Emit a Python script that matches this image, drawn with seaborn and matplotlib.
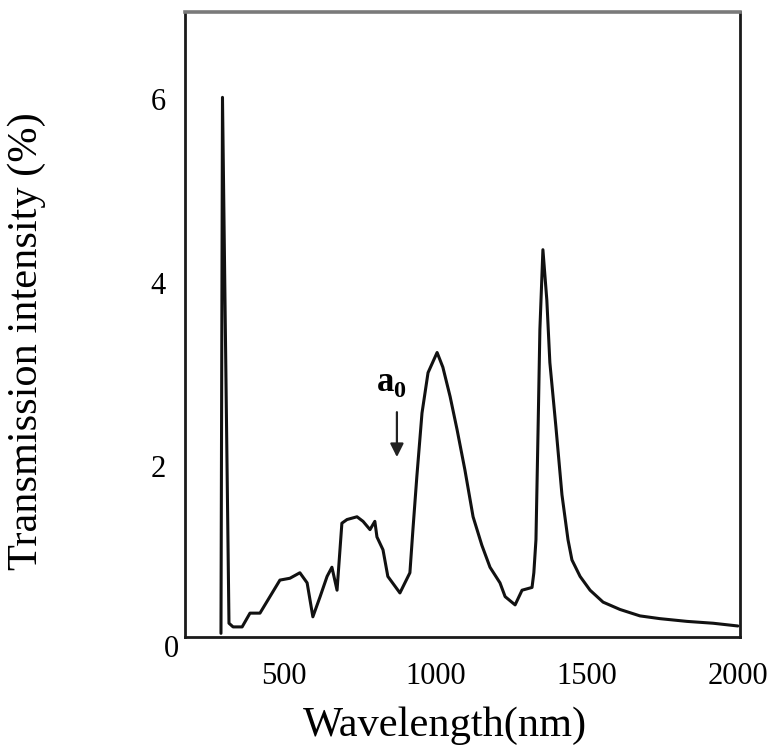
import numpy as np
import pandas as pd
import matplotlib
matplotlib.use("Agg")
import matplotlib.pyplot as plt
import seaborn as sns

# ---- data ----
wavelength_nm = [291, 296, 317.5, 331, 361, 387, 420, 453, 486, 519, 552, 576,
                 595, 619, 642, 658, 675, 691, 708, 741, 761, 784, 800, 807,
                 827, 843, 883, 916, 926, 939, 956, 976, 1006, 1025, 1049,
                 1072, 1098, 1125, 1154, 1181, 1214, 1231, 1264, 1287, 1320,
                 1326, 1333, 1340, 1346, 1356, 1369, 1379, 1399, 1419, 1439,
                 1452, 1479, 1512, 1555, 1611, 1677, 1743, 1833, 1919, 2001]
transmission = [0.18, 6.02, 0.29, 0.25, 0.25, 0.40, 0.40, 0.58, 0.76, 0.78,
                0.84, 0.73, 0.36, 0.58, 0.80, 0.90, 0.65, 1.38, 1.42, 1.45,
                1.40, 1.31, 1.40, 1.23, 1.09, 0.80, 0.62, 0.84, 1.31, 1.89,
                2.58, 3.02, 3.24, 3.08, 2.76, 2.40, 1.96, 1.45, 1.14, 0.90,
                0.73, 0.58, 0.49, 0.65, 0.68, 0.84, 1.20, 2.40, 3.49, 4.36,
                3.81, 3.13, 2.43, 1.69, 1.20, 0.98, 0.80, 0.65, 0.52, 0.44,
                0.37, 0.34, 0.31, 0.29, 0.26]
x_ticks = [500, 1000, 1500, 2000]
y_ticks = [2, 4, 6]
annotation_label = "a"
annotation_sub = "0"

df = pd.DataFrame({"Wavelength(nm)": wavelength_nm,
                   "Transmission intensity (%)": transmission})

sns.set_theme(style="white")
plt.rcParams["font.family"] = ["Liberation Serif", "DejaVu Serif"]
plt.rcParams["mathtext.fontset"] = "custom"
plt.rcParams["mathtext.rm"] = "Liberation Serif"
plt.rcParams["mathtext.bf"] = "Liberation Serif:bold"

fig = plt.figure(figsize=(7.75, 7.46), dpi=100)
ax = fig.add_axes([185 / 775, 1 - 637 / 746, 555 / 775, 625 / 746])

sns.lineplot(data=df, x="Wavelength(nm)", y="Transmission intensity (%)",
             ax=ax, color="#111111", linewidth=2.2, sort=False)

ax.set_xlim(172, 2008)
ax.set_ylim(0.14, 6.95)
ax.set_xticks(x_ticks)
ax.set_xticklabels([str(v) for v in x_ticks])
ax.set_yticks(y_ticks)
ax.set_yticklabels([str(v) for v in y_ticks])
ax.tick_params(axis="both", length=0, labelsize=22, labelcolor="black")
ax.tick_params(axis="x", pad=18)
ax.tick_params(axis="y", pad=14)
# zero label sits just below the frame, as in the reference
ax.text(-0.024, 0.0, "0", transform=ax.get_yaxis_transform(),
        ha="center", va="center", fontsize=22, color="black", clip_on=False)

ax.set_xlabel("Wavelength(nm)", fontsize=30.5, color="black")
ax.set_ylabel("Transmission intensity (%)", fontsize=30.5, color="black")
ax.xaxis.set_label_coords(0.468, -0.111)
ax.yaxis.set_label_coords(-0.25, 0.474)

for side in ["left", "bottom", "right"]:
    ax.spines[side].set_color("#1a1a1a")
    ax.spines[side].set_linewidth(2.0)
ax.spines["top"].set_color("#7a7a7a")
ax.spines["top"].set_linewidth(2.6)

# annotation: a0 with a downward arrow
ax.annotate("", xy=(873, 2.07), xytext=(873, 2.62),
            arrowprops=dict(arrowstyle="-|>", color="#222222", lw=1.6,
                            mutation_scale=20))
ax.text(855, 2.91, r"$\mathbf{%s}_\mathbf{%s}$" % (annotation_label, annotation_sub),
        fontsize=25, ha="center", va="center", color="black")

fig.savefig("out.png", dpi=100)
